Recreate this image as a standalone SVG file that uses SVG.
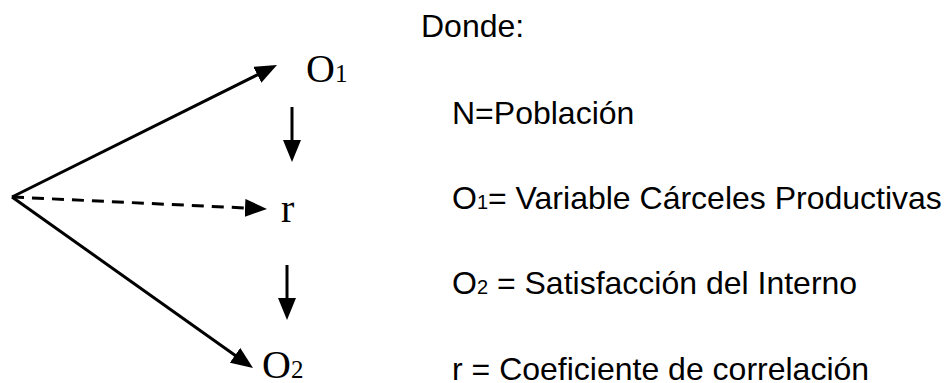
<svg xmlns="http://www.w3.org/2000/svg" width="949" height="383" viewBox="0 0 949 383">
  <style>
    .conn { stroke: #000; stroke-width: 3; fill: none; }
    .dash { stroke-dasharray: 12 8; }
    .lbl { font-family: "Liberation Serif", "Times New Roman", serif; font-size: 40px; fill: #000; }
    .sub { font-size: 25px; }
    .txt { font-family: "Liberation Sans", Arial, sans-serif; font-size: 32px; fill: #000; }
    .tsub { font-size: 20px; }
  </style>
  <defs>
    <marker id="ah" markerUnits="userSpaceOnUse" markerWidth="22" markerHeight="18" refX="12" refY="9" orient="auto" viewBox="0 0 22 18">
      <path d="M0,0 L22,9 L0,18 Z" fill="#000"/>
    </marker>
  </defs>
  <rect width="949" height="383" fill="#fff"/>

  <g id="connectors">
    <line class="conn" x1="12" y1="197" x2="268.05" y2="69.46" marker-end="url(#ah)"/>
    <line class="conn dash" x1="12" y1="197" x2="257" y2="208.5" marker-end="url(#ah)"/>
    <line class="conn" x1="12" y1="197" x2="244.84" y2="362.21" marker-end="url(#ah)"/>
    <line class="conn" x1="292" y1="107" x2="292" y2="152" marker-end="url(#ah)"/>
    <line class="conn" x1="287" y1="265" x2="287" y2="310" marker-end="url(#ah)"/>
  </g>

  <g id="node-O1">
    <text class="lbl" x="306" y="82">O<tspan class="sub">1</tspan></text>
  </g>
  <g id="node-r">
    <text class="lbl" x="281" y="222">r</text>
  </g>
  <g id="node-O2">
    <text class="lbl" x="262" y="378">O<tspan class="sub">2</tspan></text>
  </g>

  <g id="legend">
    <text class="txt" x="421" y="37">Donde:</text>
    <text class="txt" x="452" y="124">N=Población</text>
    <text class="txt" x="452" y="209">O<tspan class="tsub">1</tspan>= Variable Cárceles Productivas</text>
    <text class="txt" x="452" y="294">O<tspan class="tsub">2</tspan> = Satisfacción del Interno</text>
    <text class="txt" x="452" y="380">r = Coeficiente de correlación</text>
  </g>
</svg>
